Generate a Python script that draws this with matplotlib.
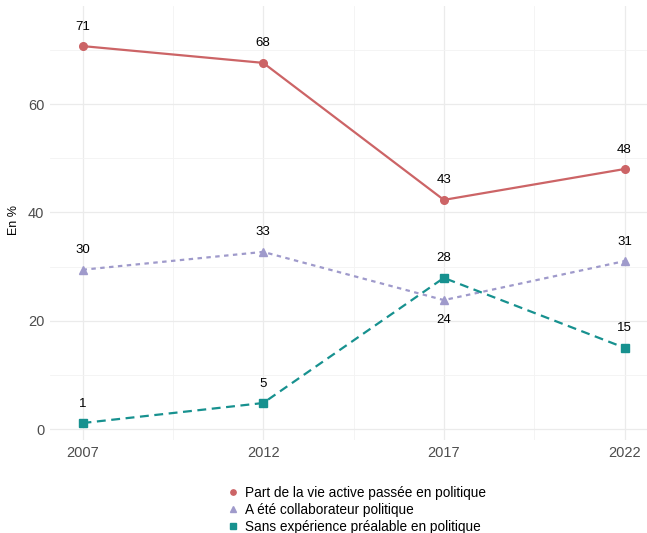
import numpy as np
import matplotlib.pyplot as plt

years = [2007, 2012, 2017, 2022]
vie_active = [70.7, 67.6, 42.3, 48.0]
collab = [29.4, 32.7, 23.8, 31.0]
sans_exp = [1.1, 4.8, 27.9, 15.0]

lab_vie = ['71', '68', '43', '48']
lab_collab = ['30', '33', '24', '31']
lab_sans = ['1', '5', '28', '15']
# position of each label: +1 above the point, -1 below
pos_collab = [1, 1, -1, 1]

series = [
    ('Part de la vie active passée en politique', vie_active, lab_vie, [1, 1, 1, 1], '#CC6466', '-', 'o'),
    ('A été collaborateur politique', collab, lab_collab, pos_collab, '#9F9ACB', (0, (2, 2)), '^'),
    ('Sans expérience préalable en politique', sans_exp, lab_sans, [1, 1, 1, 1], '#17918F', (0, (4, 2.5)), 's'),
]

plt.rcParams['font.family'] = ['Liberation Sans', 'DejaVu Sans']

fig = plt.figure(figsize=(6.47, 5.33), dpi=100)
ax = fig.add_axes([50 / 647, 1 - 440 / 533, 598 / 647, 434 / 533])

for name, vals, labs, pos, col, ls, mk in series:
    ax.plot(years, vals, color=col, ls=ls, lw=1.6, marker=mk, ms=5.5, label=name)
    for x, y, t, p in zip(years, vals, labs, pos):
        ax.text(x, y + 3.6 * p, t, ha='center', va='center', fontsize=9.5, color='black')

ax.set_xlim(2006.1, 2022.65)
ax.set_ylim(-2.03, 78.1)
ax.set_xticks(years)
ax.set_xticks([2009.5, 2014.5, 2019.5], minor=True)
ax.set_yticks([0, 20, 40, 60])
ax.set_yticks([10, 30, 50, 70], minor=True)
ax.grid(which='major', color='#EBEBEB', lw=0.9)
ax.grid(which='minor', color='#F3F3F3', lw=0.6)
ax.set_axisbelow(True)
for s in ax.spines.values():
    s.set_visible(False)
ax.tick_params(which='both', length=0, labelsize=10.5, labelcolor='#4D4D4D', pad=4)
fig.text(14 / 647, 1 - 220 / 533, 'En %', rotation=90, ha='center', va='center', fontsize=9)

fig.legend(loc='center', bbox_to_anchor=(0.552, 1 - 510 / 533), frameon=False,
           fontsize=9.8, handlelength=0.8, handletextpad=0.5, labelspacing=0.22,
           markerscale=0.7, borderpad=0.2)
leg = fig.legends[0]
for h in leg.legend_handles:
    h.set_linestyle('none')

fig.savefig('out.png', dpi=100)
